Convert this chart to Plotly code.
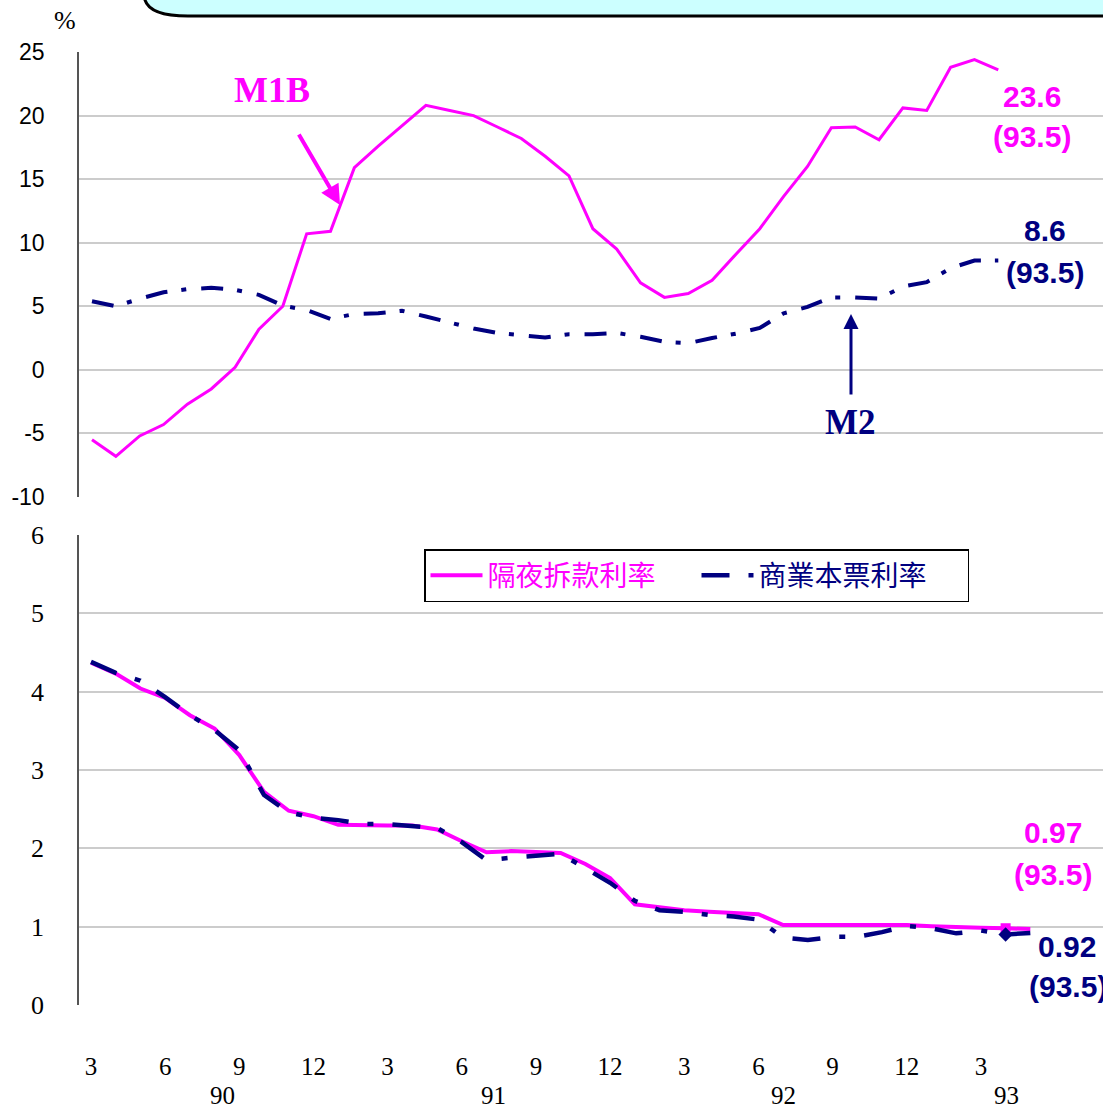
import plotly.graph_objects as go

# months from 90.3 to 93.5 (ROC years)
periods = ["90.3", "90.4", "90.5", "90.6", "90.7", "90.8", "90.9", "90.10", "90.11", "90.12",
           "91.1", "91.2", "91.3", "91.4", "91.5", "91.6", "91.7", "91.8", "91.9", "91.10", "91.11", "91.12",
           "92.1", "92.2", "92.3", "92.4", "92.5", "92.6", "92.7", "92.8", "92.9", "92.10", "92.11", "92.12",
           "93.1", "93.2", "93.3", "93.4", "93.5"]
month_ticks = ["3", "6", "9", "12", "3", "6", "9", "12", "3", "6", "9", "12", "3"]
years = ["90", "91", "92", "93"]
top_ticks = [-10, -5, 0, 5, 10, 15, 20, 25]
top_tick_text = ["-10", "-5", "0", "5", "10", "15", "20", "25"]

# money supply growth (%)
m1b = [-5.5, -6.8, -5.2, -4.3, -2.7, -1.5, 0.2, 3.2, 5.0, 10.7, 10.9, 15.9, 17.6, 19.2, 20.8,
       20.4, 20.0, 19.1, 18.2, 16.8, 15.25, 11.1, 9.5, 6.85, 5.7, 6.0, 7.05, 9.1, 11.1, 13.65,
       16.0, 19.05, 19.1, 18.1, 20.6, 20.4, 23.8, 24.4, 23.6]
m2 = [5.4, 5.0, 5.6, 6.1, 6.35, 6.45, 6.3, 5.9, 5.05, 4.7, 4.0, 4.4, 4.45, 4.65, 4.2,
      3.7, 3.25, 2.9, 2.7, 2.55, 2.8, 2.8, 2.9, 2.6, 2.2, 2.1, 2.5, 2.85, 3.3, 4.45,
      4.95, 5.7, 5.7, 5.6, 6.55, 6.9, 8.0, 8.6, 8.6]

# interest rates (%)
overnight = [4.37, 4.23, 4.04, 3.92, 3.70, 3.53, 3.19, 2.72, 2.48, 2.41, 2.30, 2.29, 2.29, 2.29, 2.24,
             2.09, 1.95, 1.965, 1.95, 1.94, 1.80, 1.62, 1.285, 1.25, 1.21, 1.19, 1.17, 1.16, 1.02, 1.025,
             1.02, 1.02, 1.02, 1.02, 1.005, 0.99, 0.985, 0.98, 0.97]
cp_rate = [4.38, 4.24, 4.14, 3.93, 3.70, 3.51, 3.25, 2.68, 2.46, 2.39, 2.36, 2.31, 2.31, 2.285, 2.26,
           2.08, 1.85, 1.88, 1.91, 1.93, 1.745, 1.56, 1.33, 1.21, 1.19, 1.15, 1.13, 1.09, 0.86, 0.83,
           0.87, 0.87, 0.93, 1.01, 0.98, 0.915, 0.95, 0.90, 0.92]

MAGENTA = "#FF00FF"
NAVY = "#000080"
GRID = "#CCCCCC"

W, H = 1103, 1110
ML = 79
idx = list(range(len(periods)))


def px(x, y):
    """pixel position -> paper coords (margins are l=79, others 0)"""
    return (x - ML) / (W - ML), (H - y) / H


fig = go.Figure()

fig.add_trace(go.Scatter(x=idx, y=m1b, mode="lines", line=dict(color=MAGENTA, width=3),
                         showlegend=False, xaxis="x", yaxis="y"))
fig.add_trace(go.Scatter(x=idx, y=m2, mode="lines",
                         line=dict(color=NAVY, width=4, dash="22px,14px,5px,15px"),
                         showlegend=False, xaxis="x", yaxis="y"))

fig.add_trace(go.Scatter(x=idx, y=overnight, mode="lines", line=dict(color=MAGENTA, width=4),
                         name='<span style="color:#FF00FF">隔夜拆款利率</span>', xaxis="x2", yaxis="y2"))
fig.add_trace(go.Scatter(x=idx, y=cp_rate, mode="lines",
                         line=dict(color=NAVY, width=4.5, dash="28px,19px,6px,19px"),
                         name="商業本票利率", xaxis="x2", yaxis="y2"))
fig.add_trace(go.Scatter(x=[idx[-2]], y=[overnight[-2]], mode="markers",
                         marker=dict(symbol="square", size=10, color=MAGENTA),
                         showlegend=False, xaxis="x2", yaxis="y2"))
fig.add_trace(go.Scatter(x=[idx[-2]], y=[cp_rate[-2]], mode="markers",
                         marker=dict(symbol="diamond", size=11, color=NAVY),
                         showlegend=False, xaxis="x2", yaxis="y2"))

top_dom = [(H - 497) / H, (H - 52) / H]
bot_dom = [(H - 1005) / H, (H - 535) / H]

yax_common = dict(showgrid=True, gridcolor=GRID, gridwidth=1.5, zeroline=False,
                  showline=True, linecolor="#555555", linewidth=1.5, ticks="",
                  ticklabelstandoff=28, automargin=False)

fig.update_layout(
    width=W, height=H,
    margin=dict(l=ML, r=0, t=0, b=0, autoexpand=False),
    plot_bgcolor="white", paper_bgcolor="white",
    xaxis=dict(domain=[0, 1], range=[-0.545, 42.39], showgrid=False, zeroline=False,
               showticklabels=False, anchor="y", automargin=False),
    yaxis=dict(domain=top_dom, range=[-10, 25], tickvals=top_ticks, ticktext=top_tick_text,
               anchor="x", tickfont=dict(family="Liberation Sans, Arial", size=23, color="black"),
               **yax_common),
    xaxis2=dict(domain=[0, 1], range=[-0.485, 40.94], showgrid=False, zeroline=False,
                anchor="y2", tickvals=idx[::3], ticktext=month_ticks, ticks="",
                ticklabelstandoff=44, automargin=False,
                tickfont=dict(family="Liberation Serif, Times New Roman", size=25, color="black")),
    yaxis2=dict(domain=bot_dom, range=[0, 6], dtick=1, anchor="x2",
                tickfont=dict(family="Liberation Serif, Times New Roman", size=26, color="black"),
                **yax_common),
    legend=dict(orientation="h", x=px(424, 0)[0], y=px(0, 549)[1], xanchor="left", yanchor="top",
                bgcolor="white", bordercolor="black", borderwidth=1.5,
                font=dict(family="Noto Sans CJK TC", size=28, color=NAVY),
                itemwidth=52, entrywidth=204, entrywidthmode="pixels", tracegroupgap=0),
)

# rounded banner at the top edge
x0, y0 = px(145, -20)
x1, y1 = px(145, 0)
xq, yq = px(150, 16)
x2, y2 = px(188, 16)
x3, y3 = px(1120, 16)
x4, y4 = px(1120, -20)
fig.add_shape(type="path", xref="paper", yref="paper",
              path=f"M {x0},{y0} L {x1},{y1} Q {xq},{yq} {x2},{y2} L {x3},{y3} L {x4},{y4} Z",
              fillcolor="#CCFFFF", line=dict(color="black", width=3))

annotations = []


def label(text, x, y, color, size, family="Liberation Sans, Arial", bold=True):
    ax_, ay_ = px(x, y)
    annotations.append(dict(text=f"<b>{text}</b>" if bold else text, x=ax_, y=ay_,
                            xref="paper", yref="paper", showarrow=False,
                            xanchor="center", yanchor="middle",
                            font=dict(family=family, size=size, color=color)))


label("%", 65, 20, "black", 26, family="Liberation Serif, Times New Roman", bold=False)
label("M1B", 272, 90, MAGENTA, 36, family="Liberation Serif, Times New Roman")
label("M2", 850, 422, NAVY, 35, family="Liberation Serif, Times New Roman")
label("23.6", 1032, 96, MAGENTA, 30)
label("(93.5)", 1032, 137, MAGENTA, 30)
label("8.6", 1045, 230, NAVY, 30)
label("(93.5)", 1045, 272, NAVY, 30)
label("0.97", 1053, 832, MAGENTA, 30)
label("(93.5)", 1053, 874, MAGENTA, 30)
label("0.92", 1067, 946, NAVY, 30)
label("(93.5)", 1068, 986, NAVY, 30)

for yr, xp in zip(years, [222, 493, 783, 1006]):
    label(yr, xp, 1095, "black", 25, family="Liberation Serif, Times New Roman", bold=False)

# arrows
hx, hy = px(340, 205)
annotations.append(dict(x=hx, y=hy, xref="paper", yref="paper", ax=-42, ay=-72, text="",
                        showarrow=True, arrowhead=2, arrowsize=1, arrowwidth=4, arrowcolor=MAGENTA))
hx, hy = px(851, 314)
annotations.append(dict(x=hx, y=hy, xref="paper", yref="paper", ax=0, ay=82, text="",
                        showarrow=True, arrowhead=2, arrowsize=1, arrowwidth=3, arrowcolor=NAVY))

fig.update_layout(annotations=annotations)

fig.write_html("out.html", config={"displayModeBar": False},
               post_script="document.body.style.margin='0';")
